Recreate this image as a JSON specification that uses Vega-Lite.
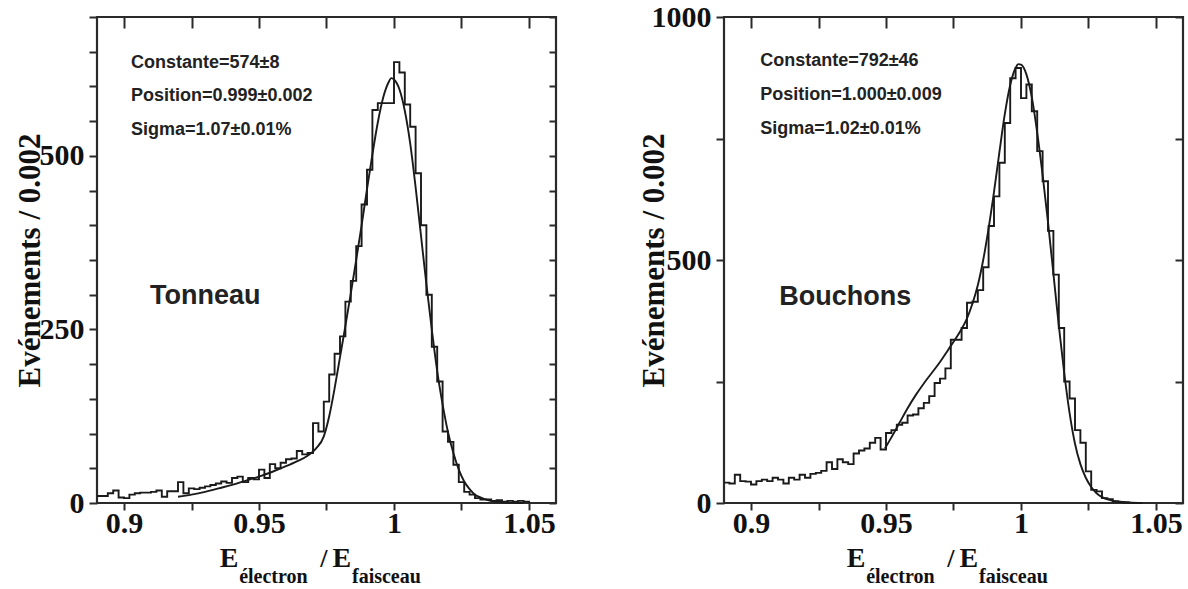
{
  "$schema": "https://vega.github.io/schema/vega-lite/v6.json",
  "background": "white",
  "padding": {"left": 12, "top": 0, "right": 0, "bottom": 0},
  "bounds": "flush",
  "spacing": 168,
  "datasets": {
    "histT": [
      {"x":0.890,"n":10},{"x":0.892,"n":10},{"x":0.894,"n":14},{"x":0.896,"n":18},{"x":0.898,"n":8},
      {"x":0.900,"n":7},{"x":0.902,"n":12},{"x":0.904,"n":14},{"x":0.906,"n":15},{"x":0.908,"n":15},
      {"x":0.910,"n":16},{"x":0.912,"n":18},{"x":0.914,"n":9},{"x":0.916,"n":17},{"x":0.918,"n":17},
      {"x":0.920,"n":30},{"x":0.922,"n":14},{"x":0.924,"n":21},{"x":0.926,"n":20},{"x":0.928,"n":22},
      {"x":0.930,"n":24},{"x":0.932,"n":26},{"x":0.934,"n":28},{"x":0.936,"n":31},{"x":0.938,"n":29},
      {"x":0.940,"n":36},{"x":0.942,"n":38},{"x":0.944,"n":30},{"x":0.946,"n":36},{"x":0.948,"n":34},
      {"x":0.950,"n":48},{"x":0.952,"n":36},{"x":0.954,"n":56},{"x":0.956,"n":50},{"x":0.958,"n":58},
      {"x":0.960,"n":63},{"x":0.962,"n":64},{"x":0.964,"n":75},{"x":0.966,"n":70},{"x":0.968,"n":72},
      {"x":0.970,"n":115},{"x":0.972,"n":103},{"x":0.974,"n":146},{"x":0.976,"n":185},{"x":0.978,"n":215},
      {"x":0.980,"n":240},{"x":0.982,"n":290},{"x":0.984,"n":320},{"x":0.986,"n":370},{"x":0.988,"n":430},
      {"x":0.990,"n":480},{"x":0.992,"n":566},{"x":0.994,"n":576},{"x":0.996,"n":576},{"x":0.998,"n":576},
      {"x":1.000,"n":635},{"x":1.002,"n":620},{"x":1.004,"n":574},{"x":1.006,"n":542},{"x":1.008,"n":475},
      {"x":1.010,"n":400},{"x":1.012,"n":300},{"x":1.014,"n":225},{"x":1.016,"n":175},{"x":1.018,"n":103},
      {"x":1.020,"n":88},{"x":1.022,"n":55},{"x":1.024,"n":30},{"x":1.026,"n":16},{"x":1.028,"n":12},
      {"x":1.030,"n":7},{"x":1.032,"n":5},{"x":1.034,"n":5},{"x":1.036,"n":3},{"x":1.038,"n":4},
      {"x":1.040,"n":2},{"x":1.042,"n":3},{"x":1.044,"n":2},{"x":1.046,"n":3},{"x":1.048,"n":2},
      {"x":1.050,"n":0}
    ],
    "fitT": [
      {"x":0.920,"n":9},{"x":0.925,"n":12},{"x":0.930,"n":16},{"x":0.935,"n":21},{"x":0.940,"n":26},
      {"x":0.945,"n":32},{"x":0.950,"n":38},{"x":0.955,"n":45},{"x":0.960,"n":53},{"x":0.964,"n":60},
      {"x":0.968,"n":68},{"x":0.971,"n":78},{"x":0.974,"n":96},{"x":0.976,"n":125},{"x":0.978,"n":165},
      {"x":0.980,"n":210},{"x":0.982,"n":255},{"x":0.984,"n":302},{"x":0.986,"n":350},{"x":0.988,"n":400},
      {"x":0.990,"n":452},{"x":0.992,"n":502},{"x":0.994,"n":548},{"x":0.996,"n":584},{"x":0.998,"n":606},
      {"x":0.999,"n":612},{"x":1.000,"n":610},{"x":1.002,"n":596},{"x":1.004,"n":565},{"x":1.006,"n":518},
      {"x":1.008,"n":455},{"x":1.010,"n":385},{"x":1.012,"n":315},{"x":1.014,"n":250},{"x":1.016,"n":190},
      {"x":1.018,"n":142},{"x":1.020,"n":102},{"x":1.022,"n":72},{"x":1.024,"n":48},{"x":1.026,"n":31},
      {"x":1.028,"n":20},{"x":1.030,"n":12},{"x":1.032,"n":8},{"x":1.035,"n":4},{"x":1.040,"n":1},
      {"x":1.048,"n":0}
    ],
    "histB": [
      {"x":0.890,"n":42},{"x":0.892,"n":40},{"x":0.894,"n":58},{"x":0.896,"n":45},{"x":0.898,"n":44},
      {"x":0.900,"n":38},{"x":0.902,"n":45},{"x":0.904,"n":48},{"x":0.906,"n":45},{"x":0.908,"n":52},
      {"x":0.910,"n":48},{"x":0.912,"n":40},{"x":0.914,"n":52},{"x":0.916,"n":48},{"x":0.918,"n":58},
      {"x":0.920,"n":52},{"x":0.922,"n":60},{"x":0.924,"n":62},{"x":0.926,"n":66},{"x":0.928,"n":84},
      {"x":0.930,"n":70},{"x":0.932,"n":90},{"x":0.934,"n":84},{"x":0.936,"n":80},{"x":0.938,"n":102},
      {"x":0.940,"n":108},{"x":0.942,"n":112},{"x":0.944,"n":124},{"x":0.946,"n":134},{"x":0.948,"n":110},
      {"x":0.950,"n":144},{"x":0.952,"n":150},{"x":0.954,"n":161},{"x":0.956,"n":165},{"x":0.958,"n":180},
      {"x":0.960,"n":182},{"x":0.962,"n":195},{"x":0.964,"n":206},{"x":0.966,"n":220},{"x":0.968,"n":247},
      {"x":0.970,"n":256},{"x":0.972,"n":277},{"x":0.974,"n":336},{"x":0.976,"n":336},{"x":0.978,"n":360},
      {"x":0.980,"n":412},{"x":0.982,"n":414},{"x":0.984,"n":438},{"x":0.986,"n":485},{"x":0.988,"n":570},
      {"x":0.990,"n":631},{"x":0.992,"n":700},{"x":0.994,"n":782},{"x":0.996,"n":874},{"x":0.998,"n":895},
      {"x":1.000,"n":833},{"x":1.002,"n":861},{"x":1.004,"n":806},{"x":1.006,"n":724},{"x":1.008,"n":662},
      {"x":1.010,"n":560},{"x":1.012,"n":470},{"x":1.014,"n":360},{"x":1.016,"n":250},{"x":1.018,"n":215},
      {"x":1.020,"n":150},{"x":1.022,"n":124},{"x":1.024,"n":65},{"x":1.026,"n":27},{"x":1.028,"n":24},
      {"x":1.030,"n":10},{"x":1.032,"n":8},{"x":1.034,"n":3},{"x":1.036,"n":2},{"x":1.038,"n":1},
      {"x":1.040,"n":0}
    ],
    "fitB": [
      {"x":0.9496,"n":112},{"x":0.952,"n":135},{"x":0.955,"n":165},{"x":0.958,"n":195},{"x":0.961,"n":222},
      {"x":0.964,"n":246},{"x":0.967,"n":268},{"x":0.970,"n":290},{"x":0.973,"n":315},{"x":0.976,"n":340},
      {"x":0.978,"n":358},{"x":0.980,"n":380},{"x":0.982,"n":410},{"x":0.984,"n":448},{"x":0.986,"n":500},
      {"x":0.988,"n":565},{"x":0.990,"n":640},{"x":0.992,"n":722},{"x":0.994,"n":800},{"x":0.996,"n":860},
      {"x":0.998,"n":895},{"x":0.999,"n":903},{"x":1.000,"n":902},{"x":1.002,"n":882},{"x":1.004,"n":835},
      {"x":1.006,"n":762},{"x":1.008,"n":675},{"x":1.010,"n":578},{"x":1.012,"n":472},{"x":1.014,"n":365},
      {"x":1.016,"n":268},{"x":1.018,"n":185},{"x":1.020,"n":122},{"x":1.022,"n":80},{"x":1.024,"n":52},
      {"x":1.026,"n":33},{"x":1.028,"n":20},{"x":1.030,"n":12},{"x":1.033,"n":6},{"x":1.036,"n":3},
      {"x":1.040,"n":1},{"x":1.045,"n":0}
    ]
  },
  "config": {
    "view": {"stroke": "#2a2a2a", "strokeWidth": 2.2},
    "axis": {
      "domain": false, "grid": false,
      "labelFont": "Liberation Serif", "labelFontWeight": "bold", "labelFontSize": 30, "labelColor": "#111",
      "tickColor": "#2a2a2a", "tickWidth": 2,
      "titleFont": "Liberation Serif", "titleFontWeight": "bold", "titleFontSize": 31, "titleColor": "#111"
    },
    "text": {"fontWeight": "bold", "align": "left", "baseline": "alphabetic"}
  },
  "hconcat": [
    {
      "width": 459, "height": 486,
      "resolve": {"axis": {"x": "independent", "y": "independent"}},
      "layer": [
        {
          "data": {"name": "histT"},
          "mark": {"type": "line", "interpolate": "step-after", "color": "#1a1a1a", "strokeWidth": 1.9},
          "encoding": {
            "x": {"field": "x", "type": "quantitative",
              "scale": {"domain": [0.89, 1.06], "nice": false, "zero": false},
              "axis": {"orient": "bottom", "values": [0.9, 0.925, 0.95, 0.975, 1, 1.025, 1.05],
                "labelExpr": "round(datum.value*40) % 2 === 0 ? format(datum.value, '~g') : ''",
                "tickSize": 7, "labelPadding": -2, "labelFlush": false, "labelOverlap": false, "title": null}},
            "y": {"field": "n", "type": "quantitative",
              "scale": {"domain": [0, 700], "nice": false},
              "axis": {"orient": "left", "values": [0,50,100,150,200,250,300,350,400,450,500,550,600,650,700],
                "labelExpr": "datum.value % 250 === 0 ? format(datum.value, 'd') : ''",
                "tickSize": 8, "labelPadding": 5, "labelOverlap": false,
                "title": "Evénements / 0.002", "titleX": -58, "titleY": 243, "titleAngle": 270,
                "titleBaseline": "alphabetic", "titleAlign": "center"}}
          }
        },
        {
          "data": {"name": "fitT"},
          "mark": {"type": "line", "interpolate": "monotone", "color": "#1a1a1a", "strokeWidth": 1.9},
          "encoding": {
            "x": {"field": "x", "type": "quantitative",
              "axis": {"orient": "top", "values": [0.9, 0.925, 0.95, 0.975, 1, 1.025, 1.05],
                "labels": false, "tickSize": -11, "title": null}},
            "y": {"field": "n", "type": "quantitative",
              "axis": {"orient": "right", "values": [0,50,100,150,200,250,300,350,400,450,500,550,600,650,700],
                "labels": false, "tickSize": -7, "title": null}}
          }
        },
        {
          "data": {"values": [{}]},
          "mark": {"type": "text", "text": "Constante=574±8", "font": "Liberation Sans", "fontSize": 18, "color": "#222"},
          "encoding": {"x": {"datum": 0.9026, "type": "quantitative", "axis": null}, "y": {"datum": 626.5, "type": "quantitative", "axis": null}}
        },
        {
          "data": {"values": [{}]},
          "mark": {"type": "text", "text": "Position=0.999±0.002", "font": "Liberation Sans", "fontSize": 18, "color": "#222"},
          "encoding": {"x": {"datum": 0.9026, "type": "quantitative", "axis": null}, "y": {"datum": 578.6, "type": "quantitative", "axis": null}}
        },
        {
          "data": {"values": [{}]},
          "mark": {"type": "text", "text": "Sigma=1.07±0.01%", "font": "Liberation Sans", "fontSize": 18, "color": "#222"},
          "encoding": {"x": {"datum": 0.9026, "type": "quantitative", "axis": null}, "y": {"datum": 530.5, "type": "quantitative", "axis": null}}
        },
        {
          "data": {"values": [{}]},
          "mark": {"type": "text", "text": "Tonneau", "font": "Liberation Sans", "fontSize": 27, "color": "#222"},
          "encoding": {"x": {"datum": 0.9096, "type": "quantitative", "axis": null}, "y": {"datum": 286, "type": "quantitative", "axis": null}}
        },
        {
          "data": {"values": [{}]},
          "mark": {"type": "text", "text": "E", "dy": 64, "font": "Liberation Serif", "fontSize": 28, "color": "#111"},
          "encoding": {"x": {"datum": 0.9355, "type": "quantitative", "axis": null}, "y": {"datum": 0, "type": "quantitative", "axis": null}}
        },
        {
          "data": {"values": [{}]},
          "mark": {"type": "text", "text": "électron", "dy": 80, "font": "Liberation Serif", "fontSize": 20, "color": "#111"},
          "encoding": {"x": {"datum": 0.94265, "type": "quantitative", "axis": null}, "y": {"datum": 0, "type": "quantitative", "axis": null}}
        },
        {
          "data": {"values": [{}]},
          "mark": {"type": "text", "text": "/", "dy": 64, "font": "Liberation Serif", "fontSize": 26, "color": "#111"},
          "encoding": {"x": {"datum": 0.9727, "type": "quantitative", "axis": null}, "y": {"datum": 0, "type": "quantitative", "axis": null}}
        },
        {
          "data": {"values": [{}]},
          "mark": {"type": "text", "text": "E", "dy": 64, "font": "Liberation Serif", "fontSize": 28, "color": "#111"},
          "encoding": {"x": {"datum": 0.9772, "type": "quantitative", "axis": null}, "y": {"datum": 0, "type": "quantitative", "axis": null}}
        },
        {
          "data": {"values": [{}]},
          "mark": {"type": "text", "text": "faisceau", "dy": 80, "font": "Liberation Serif", "fontSize": 20, "color": "#111"},
          "encoding": {"x": {"datum": 0.98444, "type": "quantitative", "axis": null}, "y": {"datum": 0, "type": "quantitative", "axis": null}}
        }
      ]
    },
    {
      "width": 459, "height": 486,
      "resolve": {"axis": {"x": "independent", "y": "independent"}},
      "layer": [
        {
          "data": {"name": "histB"},
          "mark": {"type": "line", "interpolate": "step-after", "color": "#1a1a1a", "strokeWidth": 1.9},
          "encoding": {
            "x": {"field": "x", "type": "quantitative",
              "scale": {"domain": [0.89, 1.06], "nice": false, "zero": false},
              "axis": {"orient": "bottom", "values": [0.9, 0.925, 0.95, 0.975, 1, 1.025, 1.05],
                "labelExpr": "round(datum.value*40) % 2 === 0 ? format(datum.value, '~g') : ''",
                "tickSize": 7, "labelPadding": -2, "labelFlush": false, "labelOverlap": false, "title": null}},
            "y": {"field": "n", "type": "quantitative",
              "scale": {"domain": [0, 1000], "nice": false},
              "axis": {"orient": "left", "values": [0, 250, 500, 750, 1000],
                "labelExpr": "datum.value % 500 === 0 ? format(datum.value, 'd') : ''",
                "tickSize": 8, "labelPadding": 5, "labelOverlap": false,
                "title": "Evénements / 0.002", "titleX": -61, "titleY": 243, "titleAngle": 270,
                "titleBaseline": "alphabetic", "titleAlign": "center"}}
          }
        },
        {
          "data": {"name": "fitB"},
          "mark": {"type": "line", "interpolate": "monotone", "color": "#1a1a1a", "strokeWidth": 1.9},
          "encoding": {
            "x": {"field": "x", "type": "quantitative",
              "axis": {"orient": "top", "values": [0.9, 0.925, 0.95, 0.975, 1, 1.025, 1.05],
                "labels": false, "tickSize": -11, "title": null}},
            "y": {"field": "n", "type": "quantitative",
              "axis": {"orient": "right", "values": [0, 250, 500, 750, 1000],
                "labels": false, "tickSize": -8, "title": null}}
          }
        },
        {
          "data": {"values": [{}]},
          "mark": {"type": "text", "text": "Constante=792±46", "font": "Liberation Sans", "fontSize": 18, "color": "#222"},
          "encoding": {"x": {"datum": 0.9034, "type": "quantitative", "axis": null}, "y": {"datum": 898.6, "type": "quantitative", "axis": null}}
        },
        {
          "data": {"values": [{}]},
          "mark": {"type": "text", "text": "Position=1.000±0.009", "font": "Liberation Sans", "fontSize": 18, "color": "#222"},
          "encoding": {"x": {"datum": 0.9034, "type": "quantitative", "axis": null}, "y": {"datum": 829.2, "type": "quantitative", "axis": null}}
        },
        {
          "data": {"values": [{}]},
          "mark": {"type": "text", "text": "Sigma=1.02±0.01%", "font": "Liberation Sans", "fontSize": 18, "color": "#222"},
          "encoding": {"x": {"datum": 0.9034, "type": "quantitative", "axis": null}, "y": {"datum": 759.9, "type": "quantitative", "axis": null}}
        },
        {
          "data": {"values": [{}]},
          "mark": {"type": "text", "text": "Bouchons", "font": "Liberation Sans", "fontSize": 27, "color": "#222"},
          "encoding": {"x": {"datum": 0.9105, "type": "quantitative", "axis": null}, "y": {"datum": 408, "type": "quantitative", "axis": null}}
        },
        {
          "data": {"values": [{}]},
          "mark": {"type": "text", "text": "E", "dy": 64, "font": "Liberation Serif", "fontSize": 28, "color": "#111"},
          "encoding": {"x": {"datum": 0.9355, "type": "quantitative", "axis": null}, "y": {"datum": 0, "type": "quantitative", "axis": null}}
        },
        {
          "data": {"values": [{}]},
          "mark": {"type": "text", "text": "électron", "dy": 80, "font": "Liberation Serif", "fontSize": 20, "color": "#111"},
          "encoding": {"x": {"datum": 0.94265, "type": "quantitative", "axis": null}, "y": {"datum": 0, "type": "quantitative", "axis": null}}
        },
        {
          "data": {"values": [{}]},
          "mark": {"type": "text", "text": "/", "dy": 64, "font": "Liberation Serif", "fontSize": 26, "color": "#111"},
          "encoding": {"x": {"datum": 0.9727, "type": "quantitative", "axis": null}, "y": {"datum": 0, "type": "quantitative", "axis": null}}
        },
        {
          "data": {"values": [{}]},
          "mark": {"type": "text", "text": "E", "dy": 64, "font": "Liberation Serif", "fontSize": 28, "color": "#111"},
          "encoding": {"x": {"datum": 0.9772, "type": "quantitative", "axis": null}, "y": {"datum": 0, "type": "quantitative", "axis": null}}
        },
        {
          "data": {"values": [{}]},
          "mark": {"type": "text", "text": "faisceau", "dy": 80, "font": "Liberation Serif", "fontSize": 20, "color": "#111"},
          "encoding": {"x": {"datum": 0.98444, "type": "quantitative", "axis": null}, "y": {"datum": 0, "type": "quantitative", "axis": null}}
        }
      ]
    }
  ]
}
